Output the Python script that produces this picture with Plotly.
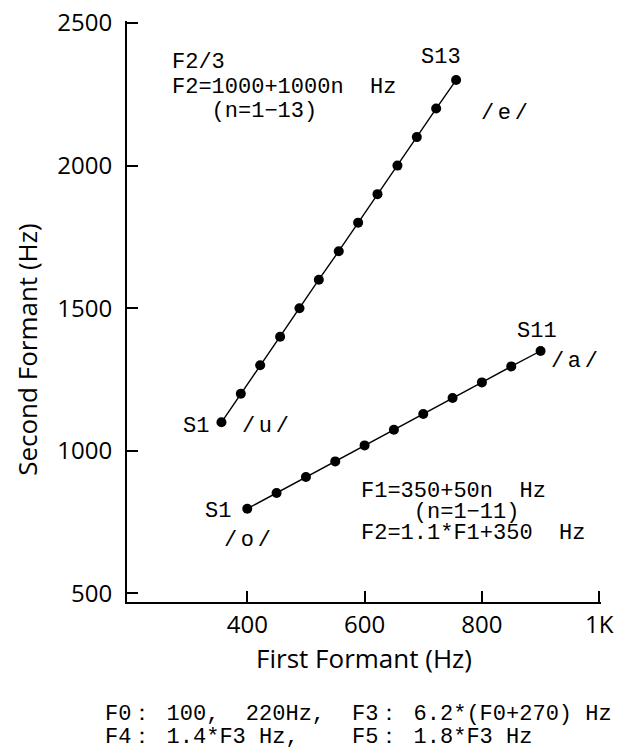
import plotly.graph_objects as go

# /u/ -> /e/ series (S1..S13)
ue_f1 = [356, 389, 422, 456, 489, 522, 556, 589, 622, 656, 689, 722, 756]
ue_f2 = [1100, 1200, 1300, 1400, 1500, 1600, 1700, 1800, 1900, 2000, 2100, 2200, 2300]

# /o/ -> /a/ series (S1..S11)
oa_f1 = [400, 450, 500, 550, 600, 650, 700, 750, 800, 850, 900]
oa_f2 = [797, 852, 908, 963, 1019, 1074, 1129, 1185, 1240, 1296, 1350]

x_tickvals = [400, 600, 800, 1000]
x_ticktext = ["400", "600", "800", "1K"]
y_tickvals = [500, 1000, 1500, 2000, 2500]
y_ticktext = ["500", "1000", "1500", "2000", "2500"]

MONO = "Liberation Mono"
SANS = "Open Sans"
FS = 22
NB = "\u00a0"


def big(s, size=FS):
    return f"<span style='font-size:{size}px'>{s}</span>"


def slashed(letter):
    gap = "<span style='font-size:6px'> </span>"
    return "/" + gap + letter + gap + "/"


fig = go.Figure()
for xs, ys in [(ue_f1, ue_f2), (oa_f1, oa_f2)]:
    fig.add_trace(go.Scatter(
        x=xs, y=ys, mode="lines+markers",
        line=dict(color="black", width=1.4),
        marker=dict(color="black", size=10),
        showlegend=False, hoverinfo="skip"))

# multi-line formula blocks (small base size gives the tight line spacing)
block_ue = "<br>".join([
    big("F2/3"),
    big("F2=1000+1000n" + NB + " Hz"),
    big(NB * 3 + "(n=1\u221213)"),
])
block_oa = "<br>".join([
    big("F1=350+50n" + NB + " Hz"),
    big(NB * 4 + "(n=1\u221211)"),
    big("F2=1.1*F1+350" + NB + " Hz"),
])
fig.add_annotation(text=block_ue, x=268, y=2275, xref="x", yref="y", showarrow=False,
                   xanchor="left", yanchor="middle", align="left",
                   font=dict(family=MONO, size=19, color="black"))
fig.add_annotation(text=block_oa, x=591, y=783, xref="x", yref="y", showarrow=False,
                   xanchor="left", yanchor="middle", align="left",
                   font=dict(family=MONO, size=16, color="black"))

# point labels in data coordinates: (text, x, y)
notes = [
    ("S13", 731, 2378),
    (slashed("e"), 839, 2182),
    ("S1", 312, 1087),
    (slashed("u"), 431, 1087),
    ("S1", 350, 786),
    (slashed("o"), 401, 684),
    ("S11", 894, 1417),
    (slashed("a"), 957, 1312),
]
for t, x, y in notes:
    fig.add_annotation(text=t, x=x, y=y, xref="x", yref="y", showarrow=False,
                       xanchor="center", yanchor="middle",
                       font=dict(family=MONO, size=FS, color="black"))

bottom = [
    ("F0\uff1a 100," + NB + " 220Hz,", -0.0506, -0.1934),
    ("F3\uff1a 6.2*(F0+270) Hz", 0.4705, -0.1934),
    ("F4\uff1a 1.4*F3 Hz,", -0.0506, -0.2332),
    ("F5\uff1a 1.8*F3 Hz", 0.4705, -0.2332),
]
for t, x, y in bottom:
    fig.add_annotation(text=t, x=x, y=y, xref="paper", yref="paper", showarrow=False,
                       xanchor="left", yanchor="middle",
                       font=dict(family=MONO, size=FS, color="black"))

# y-axis title placed slightly below the axis centre, as in the reference
fig.add_annotation(text="Second Formant (Hz)", x=-0.211, y=0.434, xref="paper", yref="paper",
                   showarrow=False, textangle=-90, xanchor="center", yanchor="middle",
                   font=dict(family=SANS, size=26, color="black"))

axis_common = dict(
    showline=True, linecolor="black", linewidth=2, mirror=False,
    ticks="inside", ticklen=11, tickwidth=2, tickcolor="black",
    showgrid=False, zeroline=False, ticklabeloverflow="allow",
    tickfont=dict(family=SANS, size=24, color="black"),
)

fig.update_xaxes(range=[195, 1003], tickmode="array", tickvals=x_tickvals, ticktext=x_ticktext,
                 title=dict(text="First Formant (Hz)", font=dict(family=SANS, size=26, color="black"), standoff=6),
                 **axis_common)
fig.update_yaxes(range=[470, 2507], tickmode="array", tickvals=y_tickvals, ticktext=y_ticktext,
                 ticklabelstandoff=8, **axis_common)

fig.update_layout(
    width=633, height=749,
    margin=dict(l=127, r=32, t=21, b=147, autoexpand=False),
    paper_bgcolor="white", plot_bgcolor="white",
)

fig.write_html("out.html", config={"displayModeBar": False},
               post_script="document.body.style.margin='0px';")
